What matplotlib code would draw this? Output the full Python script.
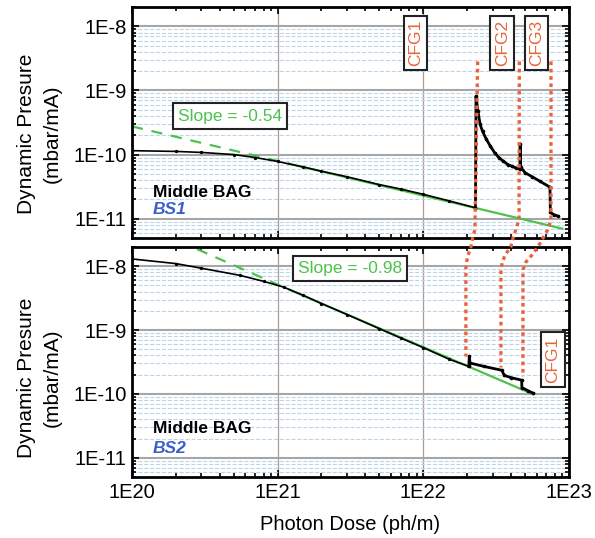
import numpy as np
import matplotlib
matplotlib.use("Agg")
import matplotlib.pyplot as plt
from matplotlib.lines import Line2D
from matplotlib.ticker import FixedLocator, FuncFormatter, LogLocator, NullFormatter

plt.rcParams['font.family'] = ['Liberation Sans', 'DejaVu Sans']

# --- data ---
# BS1 (top panel): photon dose (ph/m) vs dynamic pressure (mbar/mA)
bs1_dose = [1e20, 2e20, 3e20, 5e20, 7e20, 1e21, 1.5e21, 2e21, 3e21, 5e21, 7e21,
            1e22, 1.5e22, 2.28e22]
bs1_press = [1.15e-10, 1.12e-10, 1.08e-10, 1.0e-10, 9.0e-11, 7.8e-11, 6.4e-11, 5.5e-11,
             4.5e-11, 3.4e-11, 2.9e-11, 2.4e-11, 1.9e-11, 1.48e-11]
bs1_cfg_dose = [2.28e22, 2.3e22, 2.37e22, 2.45e22, 2.55e22, 2.7e22, 2.87e22, 3.1e22, 3.3e22,
                3.54e22, 3.8e22, 4.04e22, 4.3e22, 4.6e22, 4.62e22, 4.65e22, 5.0e22, 5.6e22,
                6.3e22, 7.4e22, 7.45e22, 7.9e22, 8.4e22]
bs1_cfg_press = [1.48e-11, 8.1e-10, 4.8e-10, 3.0e-10, 2.3e-10, 1.75e-10, 1.38e-10, 1.05e-10,
                 9.0e-11, 7.9e-11, 7.0e-11, 6.6e-11, 6.2e-11, 5.9e-11, 1.48e-10, 6.4e-11,
                 5.2e-11, 4.5e-11, 3.85e-11, 3.1e-11, 1.25e-11, 1.15e-11, 1.1e-11]

# BS2 (bottom panel)
bs2_dose = [1e20, 2e20, 3e20, 5.5e20, 8e20, 1.1e21, 1.5e21, 2e21, 3e21, 5e21, 7e21,
            1e22, 1.5e22, 2.05e22]
bs2_press = [1.3e-8, 1.1e-8, 9.3e-9, 7.2e-9, 5.8e-9, 4.7e-9, 3.5e-9, 2.6e-9, 1.75e-9,
             1.05e-9, 7.5e-10, 5.3e-10, 3.5e-10, 2.7e-10]
bs2_cfg_dose = [2.05e22, 2.07e22, 2.09e22, 2.6e22, 3.45e22, 3.6e22, 4.0e22, 4.73e22,
                4.75e22, 5.2e22, 5.7e22]
bs2_cfg_press = [2.7e-10, 3.9e-10, 3.05e-10, 2.7e-10, 2.35e-10, 1.95e-10, 1.8e-10, 1.64e-10,
                 1.26e-10, 1.13e-10, 1.02e-10]

# fitted power-law lines (dashed = extrapolation, solid = fit range)
fit1_dash_dose = [1e20, 1.2e21]
fit1_dash_press = [2.75e-10, 7.2e-11]
fit1_dose = [1.2e21, 9e22]
fit1_press = [7.2e-11, 7.0e-12]
fit2_dash_dose = [2.8e20, 1.2e21]
fit2_dash_press = [1.85e-8, 4.3e-9]
fit2_dose = [1.2e21, 5.6e22]
fit2_press = [4.3e-9, 1.0e-10]

# dotted CFG links: (dose, pressure) in top panel, then in bottom panel
link_top = [
    [(2.36e22, 2.83e-9), (2.26e22, 6.8e-12), (2.18e22, 5e-12)],
    [(4.56e22, 2.83e-9), (4.54e22, 9.7e-12), (4.13e22, 5e-12)],
    [(7.52e22, 2.83e-9), (7.52e22, 9.7e-12), (7.17e22, 6.8e-12), (6.63e22, 5e-12)],
]
link_bot = [
    [(2.12e22, 2e-8), (2.03e22, 1.5e-8), (1.96e22, 1.05e-8), (1.96e22, 3.85e-10)],
    [(3.98e22, 2e-8), (3.64e22, 1.5e-8), (3.47e22, 1.12e-8), (3.41e22, 8.1e-9), (3.41e22, 2.6e-10)],
    [(6.12e22, 2e-8), (5.57e22, 1.5e-8), (5.07e22, 1.17e-8), (4.83e22, 8.75e-9), (4.83e22, 1.87e-10)],
]

decades_x = [1e20, 1e21, 1e22, 1e23]
decades_y = [1e-11, 1e-10, 1e-9, 1e-8]

GREEN = '#4cc24c'
ORANGE = '#e8643c'
BLUE = '#3a5fc8'

fig = plt.figure(figsize=(5.95, 5.38), dpi=100)
ax1 = fig.add_axes([0.2218, 0.5576, 0.7345, 0.4294])
ax2 = fig.add_axes([0.2218, 0.1134, 0.7345, 0.4275])

fmt = FuncFormatter(lambda v, p: "1E%d" % int(round(np.log10(v))))

for ax in (ax1, ax2):
    ax.set_xscale('log')
    ax.set_yscale('log')
    ax.set_xlim(1e20, 1e23)
    ax.set_ylim(5e-12, 2e-8)
    ax.xaxis.set_major_locator(FixedLocator(decades_x))
    ax.yaxis.set_major_locator(FixedLocator(decades_y))
    ax.xaxis.set_minor_locator(LogLocator(base=10, subs=np.arange(2, 10)))
    ax.yaxis.set_minor_locator(LogLocator(base=10, subs=np.arange(2, 10)))
    ax.xaxis.set_minor_formatter(NullFormatter())
    ax.yaxis.set_minor_formatter(NullFormatter())
    ax.yaxis.set_major_formatter(fmt)
    ax.xaxis.set_major_formatter(fmt)
    ax.tick_params(which='both', direction='in', top=True, right=True, labelsize=14.5,
                   width=1.2, pad=4)
    ax.tick_params(which='major', length=5)
    ax.tick_params(which='minor', length=3)
    ax.grid(True, which='minor', axis='y', color='#bcd4e8', linestyle='--', linewidth=0.8)
    ax.grid(True, which='major', axis='y', color='#a6a6a6', linestyle='-', linewidth=1.5)
    ax.grid(True, which='major', axis='x', color='#b09a98', linestyle='-', linewidth=0.9)
    ax.set_axisbelow(True)
    for s in ax.spines.values():
        s.set_linewidth(2)
    ax.set_ylabel("Dynamic Presure\n(mbar/mA)", fontsize=15, linespacing=1.45)

ax1.tick_params(labelbottom=False)
ax1.yaxis.set_label_coords(-0.16, 0.45)
ax2.yaxis.set_label_coords(-0.16, 0.43)
ax2.set_xlabel("Photon Dose (ph/m)", fontsize=14.5, labelpad=10)

# top panel
ax1.plot(fit1_dash_dose, fit1_dash_press, color=GREEN, lw=1.6, ls=(0, (5, 4)))
ax1.plot(fit1_dose, fit1_press, color=GREEN, lw=1.6)
ax1.plot(bs1_dose, bs1_press, color='black', lw=1.2, marker='o', ms=1.4)
ax1.plot(bs1_cfg_dose, bs1_cfg_press, color='black', lw=2.0, marker='o', ms=1.6)

# bottom panel
ax2.plot(fit2_dash_dose, fit2_dash_press, color=GREEN, lw=1.6, ls=(0, (5, 4)))
ax2.plot(fit2_dose, fit2_press, color=GREEN, lw=1.6)
ax2.plot(bs2_dose, bs2_press, color='black', lw=1.2, marker='o', ms=1.4)
ax2.plot(bs2_cfg_dose, bs2_cfg_press, color='black', lw=2.0, marker='o', ms=1.6)

box = dict(boxstyle='square,pad=0.3', facecolor='white', edgecolor='#222222', linewidth=1.5)
ax1.text(0.224, 0.528, "Slope = -0.54", transform=ax1.transAxes, ha='center', va='center',
         color=GREEN, fontsize=12.5, bbox=box)
ax2.text(0.499, 0.906, "Slope = -0.98", transform=ax2.transAxes, ha='center', va='center',
         color=GREEN, fontsize=12.5, bbox=box)

cbox = dict(boxstyle='square,pad=0.25', facecolor='white', edgecolor='#222222', linewidth=1.5)
for xf, lab in [(0.649, "CFG1"), (0.847, "CFG2"), (0.926, "CFG3")]:
    ax1.text(xf, 0.844, lab, transform=ax1.transAxes, rotation=90, ha='center', va='center',
             color=ORANGE, fontsize=12.5, bbox=cbox)
ax2.text(0.963, 0.511, "CFG1", transform=ax2.transAxes, rotation=90, ha='center', va='center',
         color=ORANGE, fontsize=12.5, bbox=cbox)

ax1.text(0.048, 0.177, "Middle BAG", transform=ax1.transAxes, fontsize=12.5, fontweight='bold')
ax1.text(0.048, 0.105, "BS1", transform=ax1.transAxes, fontsize=12.5, fontweight='bold',
         style='italic', color=BLUE)
ax2.text(0.048, 0.19, "Middle BAG", transform=ax2.transAxes, fontsize=12.5, fontweight='bold')
ax2.text(0.048, 0.103, "BS2", transform=ax2.transAxes, fontsize=12.5, fontweight='bold',
         style='italic', color=BLUE)

# dotted links drawn across both panels in figure coordinates
to_fig = fig.transFigure.inverted()
for top_pts, bot_pts in zip(link_top, link_bot):
    pts = np.vstack([ax1.transData.transform(top_pts), ax2.transData.transform(bot_pts)])
    pts = to_fig.transform(pts)
    fig.add_artist(Line2D(pts[:, 0], pts[:, 1], transform=fig.transFigure, color=ORANGE,
                          lw=2.4, ls=(0, (1.1, 1.1)), zorder=5))

fig.savefig("out.png", dpi=100)
